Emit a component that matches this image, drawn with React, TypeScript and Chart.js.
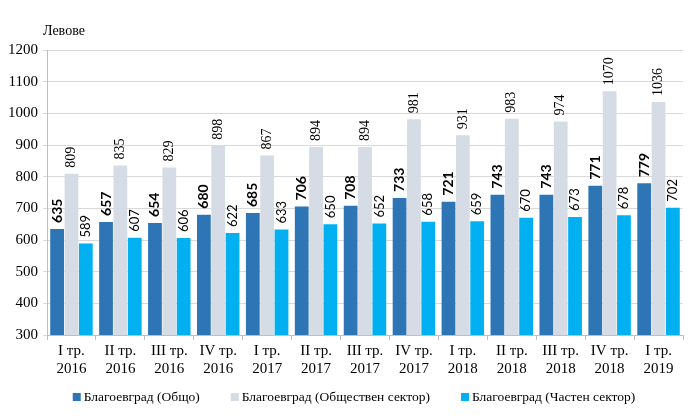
import { useEffect, useRef } from 'react';
import { Chart, registerables } from 'chart.js';

Chart.register(...registerables);

const quarters = [
  ['I тр.', '2016'], ['II тр.', '2016'], ['III тр.', '2016'], ['IV тр.', '2016'],
  ['I тр.', '2017'], ['II тр.', '2017'], ['III тр.', '2017'], ['IV тр.', '2017'],
  ['I тр.', '2018'], ['II тр.', '2018'], ['III тр.', '2018'], ['IV тр.', '2018'],
  ['I тр.', '2019'],
];
const total = [635, 657, 654, 680, 685, 706, 708, 733, 721, 743, 743, 771, 779];
const publicSector = [809, 835, 829, 898, 867, 894, 894, 981, 931, 983, 974, 1070, 1036];
const privateSector = [589, 607, 606, 622, 633, 650, 652, 658, 659, 670, 673, 678, 702];

const seriesNames = [
  'Благоевград (Общо)',
  'Благоевград (Обществен сектор)',
  'Благоевград (Частен сектор)',
];
const seriesColors = ['#2E75B6', '#D6DCE5', '#00B0F0'];

const labelFonts = [
  'bold 14px Lato',
  '14px "Liberation Serif"',
  '13px Lato',
];

const barLabels = {
  id: 'barLabels',
  afterDatasetsDraw(chart) {
    const ctx = chart.ctx;
    chart.data.datasets.forEach((ds, i) => {
      const meta = chart.getDatasetMeta(i);
      meta.data.forEach((bar, j) => {
        ctx.save();
        ctx.translate(bar.x, bar.y - 6);
        ctx.rotate(-Math.PI / 2);
        ctx.font = labelFonts[i];
        ctx.fillStyle = '#000';
        ctx.textAlign = 'left';
        ctx.textBaseline = 'middle';
        ctx.fillText(String(ds.data[j]), 0, 0);
        ctx.restore();
      });
    });

    // unit label above the y axis
    ctx.save();
    ctx.font = '14px "Liberation Serif"';
    ctx.fillStyle = '#000';
    ctx.textAlign = 'left';
    ctx.textBaseline = 'middle';
    ctx.fillText('Левове', chart.chartArea.left - 4, chart.chartArea.top - 19);

    // legend row at the bottom
    ctx.font = '13.5px "Liberation Serif"';
    const box = 8;
    const gap = 3;
    const spacing = 31;
    const widths = seriesNames.map((n) => ctx.measureText(n).width);
    const full = widths.reduce((a, w) => a + box + gap + w, 0) + spacing * (seriesNames.length - 1);
    let x = 354 - full / 2;
    const y = 397;
    seriesNames.forEach((n, i) => {
      ctx.fillStyle = seriesColors[i];
      ctx.fillRect(x, y - box / 2, box, box);
      x += box + gap;
      ctx.fillStyle = '#000';
      ctx.fillText(n, x, y);
      x += widths[i] + spacing;
    });
    ctx.restore();
  },
};

const App = () => {
  const chartRef = useRef(null);

  useEffect(() => {
    const ctx = chartRef.current.getContext('2d');

    const chart = new Chart(ctx, {
      type: 'bar',
      data: {
        labels: quarters,
        datasets: seriesNames.map((name, i) => ({
          label: name,
          data: [total, publicSector, privateSector][i],
          backgroundColor: seriesColors[i],
        })),
      },
      options: {
        responsive: false,
        animation: false,
        layout: { padding: { top: 50, right: 17, left: 3, bottom: 40 } },
        datasets: {
          bar: { categoryPercentage: 0.88, barPercentage: 0.96 },
        },
        plugins: {
          tooltip: { enabled: false },
          legend: { display: false },
        },
        scales: {
          x: {
            grid: {
              offset: true,
              drawOnChartArea: false,
              drawTicks: true,
              tickLength: 5,
              color: '#BFBFBF',
            },
            border: { color: '#BFBFBF' },
            ticks: {
              color: '#000',
              maxRotation: 0,
              padding: 2,
              font: { family: '"Liberation Serif"', size: 15 },
            },
          },
          y: {
            min: 300,
            max: 1200,
            ticks: {
              stepSize: 100,
              color: '#000',
              padding: 5,
              callback: (v) => String(v),
              font: { family: '"Liberation Serif"', size: 15 },
            },
            grid: { color: '#D9D9D9', tickLength: 4 },
            border: { color: '#BFBFBF' },
          },
        },
      },
      plugins: [barLabels],
    });

    return () => {
      chart.destroy();
    };
  }, []);

  return (
    <div style={{ position: 'fixed', left: 0, top: 0, width: 700, height: 420, background: '#fff' }}>
      <canvas ref={chartRef} width={700} height={420}></canvas>
    </div>
  );
};

export default App;
